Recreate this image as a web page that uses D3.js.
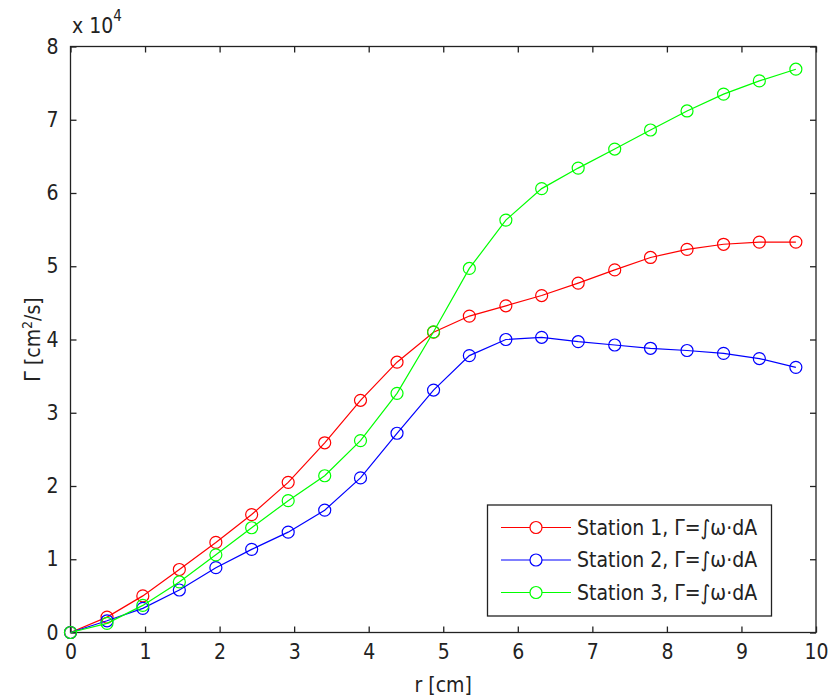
<!DOCTYPE html>
<html><head><meta charset="utf-8">
<script src="https://cdn.jsdelivr.net/npm/d3@7"></script>
<style>
body{margin:0;background:#fff;}
text{font-family:"Liberation Sans Narrow","Arial Narrow","DejaVu Sans Condensed",sans-serif;fill:#222;}
</style></head>
<body><svg id="c" width="833" height="700"></svg>
<script>
const r = [0,0.49,0.97,1.46,1.95,2.43,2.92,3.41,3.89,4.38,4.87,5.35,5.84,6.32,6.81,7.30,7.78,8.27,8.76,9.24,9.73];
const station1 = [0,0.21,0.50,0.86,1.23,1.61,2.05,2.59,3.17,3.69,4.10,4.32,4.46,4.60,4.77,4.95,5.12,5.23,5.30,5.33,5.33];
const station2 = [0,0.16,0.33,0.58,0.885,1.135,1.37,1.67,2.11,2.72,3.31,3.78,4.00,4.03,3.97,3.925,3.88,3.85,3.81,3.74,3.62];
const station3 = [0,0.125,0.37,0.69,1.06,1.43,1.80,2.14,2.62,3.265,4.105,4.97,5.63,6.06,6.34,6.60,6.86,7.12,7.35,7.53,7.69];
const seriesNames = ["Station 1, \u0393=\u222B\u03C9\u00B7dA","Station 2, \u0393=\u222B\u03C9\u00B7dA","Station 3, \u0393=\u222B\u03C9\u00B7dA"];
const colors = ["#ff0000","#0000ff","#00ff00"];
const xTicks = [0,1,2,3,4,5,6,7,8,9,10];
const yTicks = [0,1,2,3,4,5,6,7,8];

const svg = d3.select("#c");
const L=70.5,R=816,T=46.5,B=632.5;
const x = d3.scaleLinear().domain([0,10]).range([L,R]);
const y = d3.scaleLinear().domain([0,8]).range([B,T]);
const fs = 21;

// box
svg.append("rect").attr("x",L).attr("y",T).attr("width",R-L).attr("height",B-T)
  .attr("fill","none").attr("stroke","#222").attr("stroke-width",1.3);

const tl=6;
const bottom = d3.axisBottom(x).tickValues(xTicks).tickSize(-tl).tickPadding(tl+6).tickFormat(d3.format("d"));
const gb = svg.append("g").attr("transform",`translate(0,${B})`).call(bottom);
const gt = svg.append("g").attr("transform",`translate(0,${T})`).call(d3.axisTop(x).tickValues(xTicks).tickSize(-tl).tickFormat(""));
const left = d3.axisLeft(y).tickValues(yTicks).tickSize(-tl).tickPadding(tl+6).tickFormat(d3.format("d"));
const gl = svg.append("g").attr("transform",`translate(${L},0)`).call(left);
const gr = svg.append("g").attr("transform",`translate(${R},0)`).call(d3.axisRight(y).tickValues(yTicks).tickSize(-tl).tickFormat(""));
[gb,gt,gl,gr].forEach(g=>{
  g.select(".domain").remove();
  g.selectAll(".tick line").attr("stroke","#222").attr("stroke-width",1.3);
  g.selectAll("text").attr("font-size",fs).attr("fill","#222")
   .style("font-family",'"Liberation Sans Narrow","Arial Narrow","DejaVu Sans Condensed",sans-serif');
});

// exponent
const ex = svg.append("text").attr("x",72).attr("y",33).attr("font-size",fs);
ex.append("tspan").text("x 10");
ex.append("tspan").attr("dy",-12).attr("font-size",15).text("4");

// axis labels
svg.append("text").attr("x",(L+R)/2).attr("y",692).attr("text-anchor","middle").attr("font-size",fs).text("r [cm]");
const yl = svg.append("text").attr("transform",`translate(40,${(T+B)/2}) rotate(-90)`).attr("text-anchor","middle").attr("font-size",fs);
yl.append("tspan").text("\u0393 [cm");
yl.append("tspan").attr("dy",-8).attr("font-size",14).text("2");
yl.append("tspan").attr("dy",8).text("/s]");

const allSeries=[station1,station2,station3];
const line = d3.line().x((d,i)=>x(r[i])).y(d=>y(d));
allSeries.forEach((s,k)=>{
  const g = svg.append("g");
  g.append("path").datum(s).attr("d",line).attr("fill","none").attr("stroke",colors[k]).attr("stroke-width",1.2);
  g.selectAll("circle").data(s).join("circle")
    .attr("cx",(d,i)=>x(r[i])).attr("cy",d=>y(d)).attr("r",6)
    .attr("fill","none").attr("stroke",colors[k]).attr("stroke-width",1.2);
});

// legend
const lg = svg.append("g");
lg.append("rect").attr("x",487.5).attr("y",505).attr("width",284).attr("height",111)
  .attr("fill","#fff").attr("stroke","#222").attr("stroke-width",1.3);
const rowsY=[527.5,560,592.5];
seriesNames.forEach((n,k)=>{
  lg.append("line").attr("x1",501).attr("x2",571).attr("y1",rowsY[k]).attr("y2",rowsY[k]).attr("stroke",colors[k]).attr("stroke-width",1.2);
  lg.append("circle").attr("cx",536).attr("cy",rowsY[k]).attr("r",6).attr("fill","#fff").attr("stroke",colors[k]).attr("stroke-width",1.2);
  lg.append("text").attr("x",577).attr("y",rowsY[k]+7).attr("font-size",fs).text(n);
});
</script></body></html>
